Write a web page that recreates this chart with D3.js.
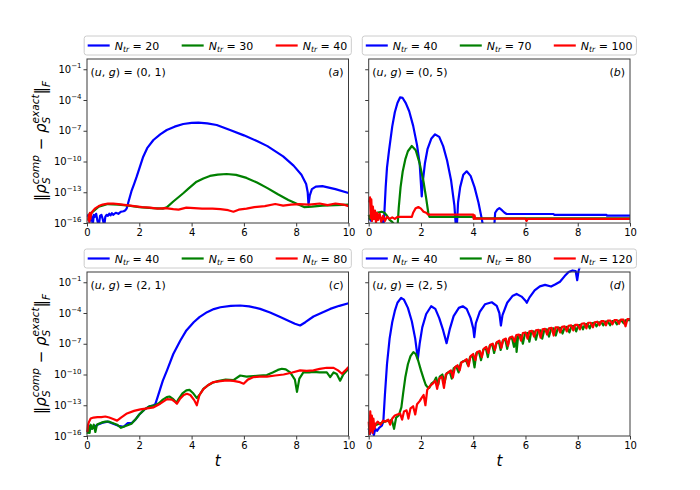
<!DOCTYPE html>
<html>
<head>
<meta charset="utf-8">
<script src="https://cdn.jsdelivr.net/npm/d3@7/dist/d3.min.js"></script>
<style>
body { margin: 0; background: #fff; }
text { font-family: "DejaVu Sans", sans-serif; fill: #000; }
</style>
</head>
<body>
<svg id="chart" width="700" height="490"></svg>
<script>
// values are [t, log10(error)]
const xTicks = [0, 2, 4, 6, 8, 10];
const yTickExps = [-16, -13, -10, -7, -4, -1];
const colors = ["#0000ff", "#008000", "#ff0000"];

// panel (a): (u,g) = (0,1)
const aLabels = ["20", "30", "40"];
const aN20 = [[0.03,-15.4],[0.05,-15.2],[0.1,-15.9],[0.14,-15.1],[0.18,-15.5],[0.22,-16.2],[0.26,-15.2],[0.3,-15.4],[0.35,-15.1],[0.4,-15.8],[0.45,-16.3],[0.5,-15.3],[0.55,-15.2],[0.6,-15.6],[0.66,-16.3],[0.7,-15.4],[0.75,-15.2],[0.8,-15.3],[0.85,-15.1],[0.9,-15.25],[0.95,-15.05],[1.0,-15.2],[1.1,-15.0],[1.2,-15.1],[1.3,-14.9],[1.4,-14.85],[1.47,-14.75],[1.52,-14.57],[1.6,-13.8],[1.7,-12.9],[1.8,-12.2],[1.9,-11.48],[2.0,-10.7],[2.15,-9.53],[2.3,-8.7],[2.54,-7.9],[2.8,-7.35],[3.05,-6.93],[3.35,-6.6],[3.68,-6.34],[4.0,-6.24],[4.26,-6.21],[4.6,-6.28],[4.96,-6.44],[5.47,-6.93],[6.0,-7.45],[6.5,-8.0],[6.9,-8.5],[7.5,-9.5],[7.9,-10.4],[8.2,-11.3],[8.38,-12.2],[8.44,-13.0],[8.47,-14.2],[8.52,-13.3],[8.6,-12.7],[8.75,-12.45],[9.0,-12.4],[9.5,-12.7],[10.0,-13.07]];
const aN30 = [[0.05,-15.7],[0.1,-15.1],[0.2,-14.95],[0.45,-14.4],[0.8,-14.15],[1.2,-14.2],[1.6,-14.3],[2.0,-14.45],[2.5,-14.55],[2.9,-14.6],[3.05,-14.47],[3.3,-13.9],[3.68,-13.1],[3.9,-12.6],[4.19,-11.97],[4.45,-11.65],[4.7,-11.41],[5.0,-11.28],[5.34,-11.22],[5.7,-11.3],[6.1,-11.6],[6.5,-12.05],[6.9,-12.6],[7.3,-13.2],[7.7,-13.75],[8.0,-14.1],[8.3,-14.45],[8.6,-14.4],[9.0,-14.3],[9.5,-14.25],[10.0,-14.2]];
const aN40 = [[0.05,-15.8],[0.07,-15.2],[0.09,-15.9],[0.11,-15.0],[0.13,-15.6],[0.16,-15.1],[0.2,-14.9],[0.3,-14.6],[0.45,-14.35],[0.6,-14.2],[0.8,-14.1],[1.0,-14.1],[1.2,-14.15],[1.5,-14.25],[1.8,-14.35],[2.1,-14.45],[2.4,-14.5],[2.7,-14.6],[3.0,-14.55],[3.3,-14.65],[3.5,-14.7],[3.8,-14.5],[4.1,-14.55],[4.4,-14.6],[4.8,-14.6],[5.1,-14.65],[5.4,-14.75],[5.6,-14.9],[5.8,-14.7],[6.1,-14.6],[6.4,-14.45],[6.8,-14.35],[7.2,-14.15],[7.5,-14.3],[7.8,-14.2],[8.1,-14.15],[8.5,-14.2],[8.9,-14.1],[9.2,-14.25],[9.5,-14.1],[9.8,-14.2],[10.0,-14.35]];

// panel (b): (u,g) = (0,5)
const bLabels = ["40", "70", "100"];
const bN40 = [[0.0,-15.5],[0.1,-15.8],[0.2,-15.3],[0.3,-15.6],[0.4,-15.4],[0.5,-15.7],[0.56,-16.5],[0.6,-15.0],[0.65,-12.5],[0.7,-10.6],[0.78,-8.9],[0.9,-6.6],[1.0,-5.2],[1.1,-4.3],[1.2,-3.75],[1.3,-3.8],[1.42,-4.3],[1.55,-5.1],[1.7,-6.5],[1.85,-8.4],[1.95,-10.2],[2.03,-13.4],[2.07,-12.0],[2.15,-10.2],[2.25,-8.8],[2.4,-7.75],[2.54,-7.35],[2.7,-7.6],[2.85,-8.5],[3.0,-9.9],[3.15,-11.8],[3.28,-14.3],[3.34,-16.5],[3.37,-16.5],[3.42,-14.0],[3.5,-12.5],[3.62,-11.3],[3.75,-10.96],[3.9,-11.4],[4.05,-12.5],[4.2,-14.0],[4.32,-15.5],[4.39,-16.5],[4.8,-16.5],[4.84,-15.0],[4.92,-14.7],[5.0,-14.55],[5.1,-14.75],[5.2,-15.0],[5.28,-15.12],[7.07,-15.12],[7.1,-15.2],[9.1,-15.2],[9.12,-15.28],[10.0,-15.28]];
const bN70 = [[0.0,-15.2],[0.05,-15.6],[0.1,-15.0],[0.15,-15.5],[0.2,-15.2],[0.3,-15.0],[0.4,-14.95],[0.5,-14.9],[0.6,-15.0],[0.7,-15.3],[0.8,-15.7],[0.9,-15.9],[1.0,-16.2],[1.1,-16.5],[1.15,-14.5],[1.22,-12.5],[1.3,-11.0],[1.4,-9.8],[1.5,-9.0],[1.65,-8.49],[1.8,-8.9],[1.95,-10.2],[2.1,-12.0],[2.2,-13.6],[2.28,-15.0],[2.32,-15.4],[4.0,-15.4],[4.03,-15.55],[10.0,-15.55]];
const bN100 = [[0.02,-14.0],[0.05,-13.5],[0.08,-15.5],[0.1,-13.7],[0.13,-15.8],[0.16,-14.4],[0.2,-15.6],[0.24,-14.8],[0.28,-16.0],[0.32,-15.0],[0.36,-15.7],[0.42,-15.1],[0.48,-15.9],[0.55,-15.3],[0.62,-15.8],[0.7,-15.4],[0.8,-15.6],[0.9,-15.45],[1.0,-15.6],[1.1,-15.4],[1.25,-15.41],[1.65,-15.41],[1.7,-15.0],[1.8,-14.55],[1.9,-14.44],[2.0,-14.6],[2.1,-14.9],[2.2,-15.0],[2.28,-15.18],[4.0,-15.18],[4.02,-15.6],[4.05,-15.25],[4.08,-15.58],[6.0,-15.58],[6.04,-15.8],[6.08,-15.6],[10.0,-15.6]];

// panel (c): (u,g) = (2,1)
const cLabels = ["40", "60", "80"];
const cN40 = [[0.02,-15.6],[0.08,-15.0],[0.15,-15.3],[0.25,-15.2],[0.4,-14.9],[0.6,-14.7],[0.8,-14.6],[1.0,-14.8],[1.2,-15.0],[1.4,-15.1],[1.55,-14.75],[1.7,-14.75],[1.85,-14.4],[2.0,-13.9],[2.2,-13.4],[2.4,-13.1],[2.55,-13.0],[2.61,-12.9],[2.7,-12.2],[2.8,-11.4],[2.9,-10.6],[3.06,-9.6],[3.3,-8.0],[3.57,-6.68],[3.8,-5.7],[4.08,-4.9],[4.3,-4.4],[4.59,-3.92],[4.85,-3.62],[5.1,-3.44],[5.5,-3.31],[5.86,-3.27],[6.2,-3.35],[6.62,-3.6],[7.0,-3.95],[7.39,-4.4],[7.7,-4.75],[7.95,-5.05],[8.15,-5.22],[8.35,-4.9],[8.66,-4.34],[9.0,-3.95],[9.3,-3.6],[9.65,-3.3],[10.0,-3.05]];
const cN60 = [[0.02,-15.8],[0.06,-15.1],[0.1,-15.7],[0.14,-14.9],[0.2,-15.3],[0.26,-14.9],[0.32,-15.6],[0.38,-14.9],[0.45,-14.8],[0.55,-14.7],[0.7,-14.6],[0.85,-14.6],[1.0,-14.75],[1.15,-14.9],[1.3,-15.2],[1.4,-15.1],[1.55,-14.95],[1.7,-14.8],[1.85,-14.4],[2.0,-13.9],[2.2,-13.4],[2.4,-13.1],[2.6,-13.0],[2.75,-12.8],[2.9,-12.45],[3.05,-12.2],[3.15,-12.15],[3.3,-12.4],[3.42,-12.75],[3.5,-12.4],[3.65,-11.85],[3.8,-11.55],[3.92,-11.5],[4.05,-11.8],[4.2,-12.3],[4.3,-12.0],[4.45,-11.4],[4.6,-11.1],[4.8,-10.8],[5.0,-10.65],[5.3,-10.5],[5.6,-10.55],[5.86,-10.1],[6.1,-10.2],[6.37,-10.15],[6.6,-10.1],[6.88,-10.05],[7.1,-9.8],[7.3,-9.55],[7.45,-9.44],[7.6,-9.5],[7.77,-9.8],[7.95,-10.5],[8.03,-11.7],[8.12,-10.4],[8.28,-9.77],[8.5,-9.8],[8.66,-9.75],[8.9,-9.8],[9.17,-9.8],[9.3,-10.25],[9.43,-9.8],[9.55,-9.95],[9.68,-10.6],[9.8,-10.0],[10.0,-9.44]];
const cN80 = [[0.01,-15.6],[0.04,-14.9],[0.08,-14.6],[0.14,-14.3],[0.25,-14.2],[0.4,-14.15],[0.55,-14.15],[0.7,-14.1],[0.85,-14.2],[1.0,-14.35],[1.15,-14.5],[1.3,-14.2],[1.53,-13.8],[1.8,-13.55],[2.04,-13.4],[2.3,-13.3],[2.55,-13.2],[2.8,-12.85],[3.06,-12.4],[3.25,-12.45],[3.38,-12.7],[3.44,-12.85],[3.55,-12.4],[3.7,-12.0],[3.82,-11.88],[3.95,-12.0],[4.1,-12.5],[4.2,-13.0],[4.3,-12.0],[4.46,-11.4],[4.65,-11.0],[4.84,-10.74],[5.1,-10.65],[5.35,-10.58],[5.6,-10.62],[5.85,-10.75],[5.99,-10.9],[6.15,-10.5],[6.37,-10.25],[6.6,-10.2],[6.88,-10.2],[7.2,-10.1],[7.52,-10.0],[7.85,-9.8],[8.15,-9.6],[8.4,-9.65],[8.66,-9.6],[8.9,-9.45],[9.17,-9.34],[9.43,-9.35],[9.6,-9.6],[9.75,-9.93],[9.88,-9.6],[10.0,-9.28]];

// panel (d): (u,g) = (2,5)
const dLabels = ["40", "80", "120"];
const dN40 = [[0.0,-15.3],[0.05,-15.8],[0.1,-15.1],[0.15,-15.6],[0.2,-15.9],[0.25,-15.3],[0.32,-15.5],[0.4,-15.2],[0.5,-15.0],[0.56,-14.6],[0.62,-12.0],[0.7,-9.0],[0.8,-6.5],[0.9,-4.9],[1.0,-3.8],[1.1,-3.0],[1.24,-2.53],[1.35,-2.7],[1.5,-3.5],[1.65,-4.8],[1.78,-6.5],[1.88,-8.47],[1.95,-7.0],[2.05,-5.4],[2.2,-4.1],[2.39,-3.34],[2.55,-3.6],[2.7,-4.5],[2.85,-5.7],[2.98,-6.94],[3.1,-5.6],[3.25,-4.3],[3.45,-3.5],[3.6,-3.34],[3.75,-3.6],[3.9,-4.5],[4.0,-5.5],[4.04,-6.36],[4.1,-5.0],[4.25,-3.9],[4.45,-3.15],[4.71,-2.95],[4.9,-3.3],[5.0,-4.0],[5.06,-5.22],[5.12,-4.2],[5.3,-3.0],[5.5,-2.35],[5.66,-2.14],[5.85,-2.4],[6.0,-2.8],[6.05,-3.0],[6.15,-2.5],[6.35,-1.8],[6.55,-1.4],[6.75,-1.26],[6.98,-1.42],[7.15,-1.2],[7.32,-0.95],[7.5,-0.4],[7.65,0.0],[7.8,0.15],[7.92,0.1],[7.98,-0.8],[8.03,0.1],[8.08,0.5]];
const dN80 = [[0.0,-15.2],[0.05,-15.6],[0.1,-14.9],[0.15,-15.4],[0.2,-15.0],[0.3,-14.9],[0.4,-14.8],[0.5,-14.7],[0.6,-14.6],[0.7,-14.5],[0.8,-14.6],[0.88,-14.4],[0.97,-15.3],[1.05,-14.2],[1.15,-14.0],[1.25,-13.2],[1.32,-11.8],[1.4,-10.3],[1.5,-9.0],[1.6,-8.2],[1.71,-7.82],[1.8,-8.0],[1.9,-8.7],[2.0,-9.6],[2.1,-10.4],[2.18,-11.0],[2.24,-11.2],[2.32,-11.3],[2.4,-10.9],[2.5,-10.7],[2.58,-10.3],[2.66,-11.0],[2.72,-10.2],[2.82,-10.0],[2.9,-10.8],[2.98,-9.9],[3.1,-9.7],[3.18,-10.4],[3.25,-9.4],[3.35,-9.2],[3.44,-9.8],[3.52,-8.9],[3.62,-8.7],[3.72,-8.6],[3.8,-9.1],[3.88,-8.3],[3.98,-8.2],[4.05,-9.3],[4.12,-7.9],[4.22,-7.8],[4.3,-8.6],[4.38,-7.6],[4.48,-7.4],[4.56,-8.3],[4.63,-7.2],[4.73,-7.1],[4.8,-7.9],[4.88,-6.95],[4.98,-6.8],[5.05,-7.6],[5.13,-6.7],[5.23,-6.6],[5.3,-7.5],[5.38,-6.5],[5.48,-6.4],[5.56,-7.3],[5.63,-6.3],[5.66,-7.8],[5.72,-6.2],[5.82,-6.15],[5.9,-7.0],[5.98,-6.0],[6.08,-5.95],[6.15,-6.8],[6.22,-5.85],[6.32,-5.8],[6.4,-6.6],[6.48,-5.75],[6.58,-5.7],[6.64,-6.5],[6.72,-5.65],[6.82,-5.6],[6.9,-6.3],[6.98,-5.55],[7.08,-5.5],[7.16,-6.2],[7.24,-5.45],[7.34,-5.45],[7.42,-6.0],[7.5,-5.4],[7.6,-5.35],[7.68,-5.9],[7.76,-5.3],[7.86,-5.25],[7.94,-5.8],[8.02,-5.2],[8.12,-5.15],[8.2,-5.6],[8.28,-5.1],[8.38,-5.05],[8.46,-5.5],[8.54,-5.0],[8.64,-4.95],[8.72,-5.3],[8.8,-4.9],[8.9,-4.9],[8.98,-5.2],[9.06,-4.85],[9.16,-4.85],[9.24,-5.2],[9.32,-4.8],[9.42,-4.8],[9.5,-5.1],[9.58,-4.75],[9.68,-4.75],[9.76,-5.0],[9.84,-4.7],[10.0,-4.7]];
const dN120 = [[0.0,-14.6],[0.03,-15.8],[0.06,-13.6],[0.09,-15.5],[0.12,-14.0],[0.15,-15.7],[0.18,-14.3],[0.22,-15.3],[0.27,-14.8],[0.35,-14.6],[0.45,-14.9],[0.55,-14.5],[0.65,-14.6],[0.75,-14.4],[0.82,-14.9],[0.9,-14.3],[1.0,-14.0],[1.1,-13.9],[1.2,-13.8],[1.28,-14.4],[1.35,-13.6],[1.45,-13.5],[1.52,-14.3],[1.6,-13.3],[1.7,-13.1],[1.78,-13.9],[1.85,-12.9],[1.95,-12.6],[2.02,-12.3],[2.1,-12.0],[2.17,-13.0],[2.24,-11.5],[2.35,-11.1],[2.45,-10.9],[2.55,-10.6],[2.62,-11.4],[2.7,-10.4],[2.8,-10.2],[2.88,-11.3],[2.95,-10.0],[3.05,-9.8],[3.15,-9.6],[3.22,-10.3],[3.3,-9.3],[3.4,-9.1],[3.48,-9.6],[3.55,-8.8],[3.65,-8.7],[3.75,-8.5],[3.82,-9.2],[3.9,-8.2],[4.0,-8.0],[4.08,-8.6],[4.15,-7.8],[4.25,-7.7],[4.33,-8.3],[4.4,-7.5],[4.5,-7.3],[4.58,-7.9],[4.65,-7.1],[4.75,-7.0],[4.83,-7.6],[4.9,-6.85],[5.0,-6.7],[5.08,-7.4],[5.15,-6.6],[5.25,-6.5],[5.33,-7.2],[5.4,-6.4],[5.5,-6.3],[5.58,-6.8],[5.65,-6.15],[5.75,-6.1],[5.83,-6.7],[5.9,-5.95],[6.0,-5.9],[6.08,-6.5],[6.15,-5.8],[6.25,-5.75],[6.33,-6.3],[6.4,-5.7],[6.5,-5.65],[6.58,-6.4],[6.65,-5.6],[6.75,-5.55],[6.83,-6.1],[6.9,-5.5],[7.0,-5.45],[7.08,-6.2],[7.15,-5.4],[7.25,-5.4],[7.33,-5.9],[7.4,-5.35],[7.5,-5.3],[7.58,-5.8],[7.65,-5.25],[7.75,-5.2],[7.83,-5.7],[7.9,-5.15],[8.0,-5.15],[8.08,-5.6],[8.15,-5.05],[8.25,-5.0],[8.33,-5.5],[8.4,-4.95],[8.5,-4.95],[8.58,-5.4],[8.65,-4.9],[8.75,-4.85],[8.83,-5.2],[8.9,-4.8],[9.0,-4.8],[9.08,-5.2],[9.15,-4.75],[9.25,-4.75],[9.33,-5.1],[9.4,-4.7],[9.5,-4.7],[9.58,-5.05],[9.65,-4.65],[9.75,-4.65],[9.83,-5.3],[9.9,-4.6],[10.0,-4.6]];

const panels = [
  { tag: "a", ug: "(0, 1)", col: 0, row: 0, labels: aLabels, series: [aN20, aN30, aN40] },
  { tag: "b", ug: "(0, 5)", col: 1, row: 0, labels: bLabels, series: [bN40, bN70, bN100] },
  { tag: "c", ug: "(2, 1)", col: 0, row: 1, labels: cLabels, series: [cN40, cN60, cN80] },
  { tag: "d", ug: "(2, 5)", col: 1, row: 1, labels: dLabels, series: [dN40, dN80, dN120] }
];

const colX = [[87, 348.5], [368.7, 630]];
const rowY = [[59, 223], [272, 436]];

const svg = d3.select("#chart");

panels.forEach(p => {
  const [x0, x1] = colX[p.col];
  const [y0, y1] = rowY[p.row];
  const x = d3.scaleLinear().domain([0, 10]).range([x0, x1]);
  const y = d3.scaleLog().domain([1e-16, 1]).range([y1, y0]);
  const g = svg.append("g");

  // only the bottom edge clips (curves may poke above the frame, as in the original)
  const clipId = "clip-" + p.tag;
  svg.append("clipPath").attr("id", clipId)
    .append("rect").attr("x", x0 - 3).attr("y", y0 - 40).attr("width", x1 - x0 + 6).attr("height", y1 - y0 + 40);

  const line = d3.line().x(d => x(d[0])).y(d => y(Math.pow(10, d[1])));
  const plot = g.append("g").attr("clip-path", `url(#${clipId})`);
  p.series.forEach((s, i) => {
    plot.append("path").datum(s)
      .attr("d", line)
      .attr("fill", "none")
      .attr("stroke", colors[i])
      .attr("stroke-width", 2.2)
      .attr("stroke-linejoin", "round");
  });

  // frame
  g.append("rect").attr("x", x0).attr("y", y0).attr("width", x1 - x0).attr("height", y1 - y0)
    .attr("fill", "none").attr("stroke", "#3a3a3a").attr("stroke-width", 1);

  // x axis
  const xa = g.append("g").attr("transform", `translate(0,${y1})`)
    .call(d3.axisBottom(x).tickValues(xTicks).tickSize(3.5).tickPadding(2.5).tickFormat(d3.format("d")));
  xa.select(".domain").remove();
  xa.selectAll("line").attr("stroke", "#3a3a3a");
  xa.selectAll("text").attr("font-size", 10).attr("font-family", "DejaVu Sans");

  // y axis
  const ya = g.append("g").attr("transform", `translate(${x0},0)`)
    .call(d3.axisLeft(y).tickValues(yTickExps.map(e => Math.pow(10, e))).tickSize(3.5).tickFormat(""));
  ya.select(".domain").remove();
  ya.selectAll("line").attr("stroke", "#3a3a3a");
  if (p.col === 0) {
    yTickExps.forEach(e => {
      const t = g.append("text").attr("x", x0 - 5.5).attr("y", y(Math.pow(10, e)) + 3.6)
        .attr("text-anchor", "end").attr("font-size", 10);
      t.append("tspan").text("10");
      t.append("tspan").attr("font-size", 7).attr("dy", -4.6).text("\u2212" + Math.abs(e));
    });
  }

  // annotations
  const ann = g.append("text").attr("x", x0 + 3.5).attr("y", y0 + 17).attr("font-size", 11);
  ann.append("tspan").text("(");
  ann.append("tspan").attr("font-style", "italic").text("u");
  ann.append("tspan").text(", ");
  ann.append("tspan").attr("font-style", "italic").text("g");
  ann.append("tspan").text(") = " + p.ug);
  const tag = g.append("text").attr("x", x1 - 5).attr("y", y0 + 17).attr("font-size", 11).attr("text-anchor", "end");
  tag.append("tspan").text("(");
  tag.append("tspan").attr("font-style", "italic").text(p.tag);
  tag.append("tspan").text(")");

  // legend above the panel
  const lg = g.append("g");
  const box = lg.append("rect");
  const ly = y0 - 13.5;
  const step = 94;
  let lastEnd = 0;
  p.labels.forEach((lab, i) => {
    const lx = 3.5 + i * step;
    lg.append("line").attr("x1", lx).attr("x2", lx + 22).attr("y1", ly).attr("y2", ly)
      .attr("stroke", colors[i]).attr("stroke-width", 2.2);
    const t = lg.append("text").attr("x", lx + 27).attr("y", ly + 4).attr("font-size", 11);
    t.append("tspan").attr("font-style", "italic").text("N");
    t.append("tspan").attr("font-style", "italic").attr("font-size", 7.7).attr("dy", 2.2).text("tr");
    t.append("tspan").attr("dy", -2.2).text(" = " + lab);
    lastEnd = lx + 27 + t.node().getComputedTextLength();
  });
  const bw = lastEnd + 4;
  const bx = (x0 + x1) / 2 - bw / 2;
  lg.attr("transform", `translate(${bx},0)`);
  box.attr("x", 0).attr("y", y0 - 23).attr("width", bw).attr("height", 19)
    .attr("rx", 2.5).attr("fill", "#fff").attr("fill-opacity", 0.8)
    .attr("stroke", "#cccccc").attr("stroke-width", 1);

  // y label on left panels
  if (p.col === 0) {
    const cy = (y0 + y1) / 2;
    const yl = g.append("text").attr("transform", `translate(46,${cy}) rotate(-90)`)
      .attr("text-anchor", "middle").attr("font-size", 15);
    yl.append("tspan").text("\u2016");
    yl.append("tspan").attr("font-style", "italic").text("\u03c1");
    yl.append("tspan").attr("font-style", "italic").attr("font-size", 10.5).attr("dy", 3.5).text("S");
    yl.append("tspan").attr("font-style", "italic").attr("font-size", 10.5).attr("dx", -6.7).attr("dy", -10.5).text("comp");
    yl.append("tspan").attr("dy", 7).text(" \u2212 ");
    yl.append("tspan").attr("font-style", "italic").text("\u03c1");
    yl.append("tspan").attr("font-style", "italic").attr("font-size", 10.5).attr("dy", 3.5).text("S");
    yl.append("tspan").attr("font-style", "italic").attr("font-size", 10.5).attr("dx", -6.7).attr("dy", -10.5).text("exact");
    yl.append("tspan").attr("dy", 7).text("\u2016");
    yl.append("tspan").attr("font-style", "italic").attr("font-size", 10.5).attr("dy", 3.5).text("F");
  }

  // x label on bottom panels
  if (p.row === 1) {
    g.append("text").attr("x", (x0 + x1) / 2).attr("y", 466).attr("text-anchor", "middle")
      .attr("font-size", 15).attr("font-style", "italic").text("t");
  }
});
</script>
</body>
</html>
